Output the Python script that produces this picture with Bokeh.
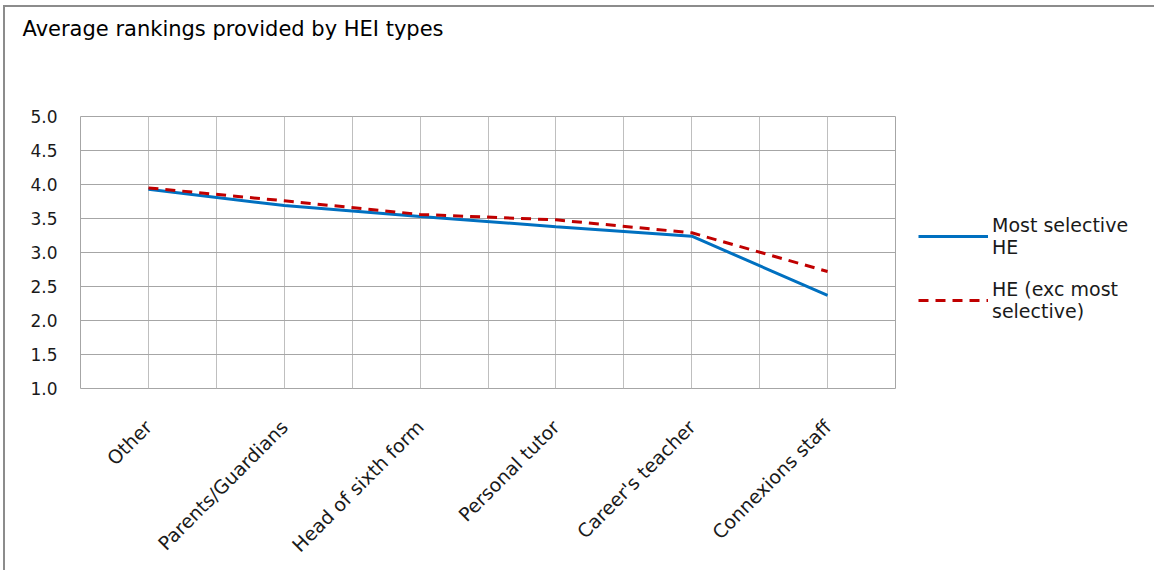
from bokeh.plotting import figure
from bokeh.models import (FixedTicker, Legend, LegendItem, NumeralTickFormatter, Range1d, Title)
from bokeh.embed import file_html
from bokeh.resources import INLINE
from math import pi

categories = ["Other", "Parents/Guardians", "Head of sixth form", "Personal tutor",
              "Career's teacher", "Connexions staff"]
most_selective = [3.93, 3.69, 3.53, 3.38, 3.24, 2.37]
he_exc_most = [3.95, 3.76, 3.56, 3.48, 3.29, 2.72]
series_names = ["Most selective\nHE", "HE (exc most\nselective)"]
y_ticks = [1.0, 1.5, 2.0, 2.5, 3.0, 3.5, 4.0, 4.5, 5.0]
title_text = "Average rankings provided by HEI types"

FONT = "DejaVu Sans"
xs = list(range(len(categories)))

p = figure(width=1140, height=563, output_backend="svg", toolbar_location=None,
           x_range=Range1d(-0.5, len(categories) - 0.5), y_range=Range1d(1.0, 5.0),
           min_border_left=75, min_border_top=0, min_border_right=250, min_border_bottom=182,
           title=None)
p.frame_width = 815
p.frame_height = 272
p.styles = {"margin-left": "3px", "margin-top": "5px",
            "border-left": "2px solid #8c8c8c", "border-top": "2px solid #8c8c8c"}

# spacer between title and plot area (nearest the frame), then the title
spacer = Title(text=" ", text_font_size="1px", standoff=66)
p.add_layout(spacer, "above")
title = Title(text=title_text, text_font=FONT, text_font_size="21px", text_font_style="normal",
              text_color="#000000", align="left", offset=-58, standoff=14)
p.add_layout(title, "above")

p.outline_line_color = "#a6a6a6"
p.outline_line_width = 1
p.background_fill_color = "white"
p.border_fill_color = "white"

# grids
p.xgrid.ticker = FixedTicker(ticks=[i * 0.5 - 0.5 for i in range(2 * len(categories) + 1)])
p.ygrid.ticker = FixedTicker(ticks=y_ticks)
p.xgrid.grid_line_color = "#bfbfbf"
p.ygrid.grid_line_color = "#a6a6a6"

# axes
p.xaxis.ticker = FixedTicker(ticks=xs)
p.xaxis.major_label_overrides = {i: c for i, c in enumerate(categories)}
p.xaxis.major_label_orientation = pi / 4
p.yaxis.ticker = FixedTicker(ticks=y_ticks)
p.yaxis.formatter = NumeralTickFormatter(format="0.0")
for ax in (p.xaxis[0], p.yaxis[0]):
    ax.axis_line_color = None
    ax.major_tick_line_color = None
    ax.minor_tick_line_color = None
    ax.major_tick_out = 0
    ax.major_tick_in = 0
    ax.major_label_text_font = FONT
    ax.major_label_text_color = "#1a1a1a"
p.yaxis.major_label_text_font_size = "17px"
p.xaxis.major_label_text_font_size = "19px"
p.yaxis.major_label_standoff = 23
p.xaxis.major_label_standoff = 35

r1 = p.line(xs, most_selective, line_color="#0070C0", line_width=3)
r2 = p.line(xs, he_exc_most, line_color="#C00000", line_width=3, line_dash="10 7")

legend = Legend(items=[LegendItem(label=series_names[0], renderers=[r1]),
                       LegendItem(label=series_names[1], renderers=[r2])],
                location=(23, 66), orientation="vertical")
legend.glyph_width = 70
legend.padding = 0
legend.margin = 0
legend.spacing = 20
legend.label_standoff = 4
legend.label_text_font = FONT
legend.label_text_font_size = "19px"
legend.label_text_color = "#1a1a1a"
legend.border_line_color = None
legend.background_fill_alpha = 0
p.add_layout(legend, "right")

open("out.html", "w").write(file_html(p, INLINE))
